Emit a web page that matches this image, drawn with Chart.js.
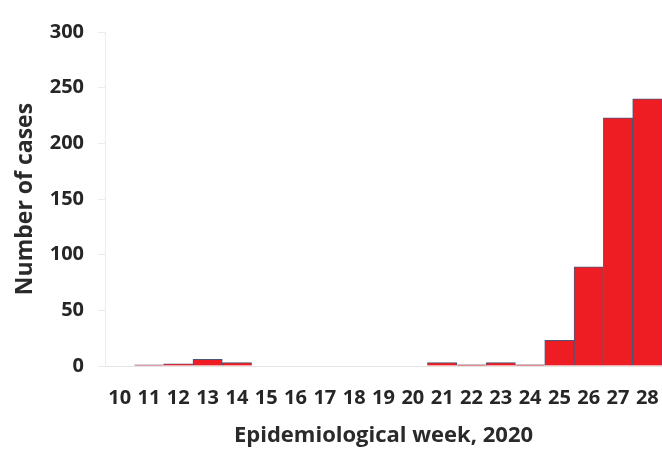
<!DOCTYPE html>
<html lang="en">
<head>
    <meta charset="UTF-8">
    <title>Number of cases by epidemiological week</title>
    <script src="https://cdn.jsdelivr.net/npm/chart.js"></script>
    <style>
        html, body {
            margin: 0;
            padding: 0;
            background: #ffffff;
        }
        .chart-container {
            width: 662px;
            height: 449px;
        }
    </style>
</head>
<body>
    <div class="chart-container">
        <canvas id="casesChart"></canvas>
    </div>

    <script>
        // Datos
        const weeks = ['10', '11', '12', '13', '14', '15', '16', '17', '18', '19',
                       '20', '21', '22', '23', '24', '25', '26', '27', '28'];
        const cases = [0, 1, 2, 6, 3, 0, 0, 0, 0, 0,
                       0, 3, 1, 3, 1, 23, 89, 223, 240];
        const yTicks = [0, 50, 100, 150, 200, 250, 300];

        const barRed = '#ee1d23';
        const barEdge = '#4b5878';
        const lightBlue = '#58b4e6';

        // la semana 11 se ve como una línea azul clara
        const edgeColors = weeks.map(w => w === '11' ? lightBlue : barEdge);

        const fontFamily = "'Open Sans', sans-serif";

        const ctx = document.getElementById('casesChart').getContext('2d');
        const chart = new Chart(ctx, {
            type: 'bar',
            data: {
                labels: weeks,
                datasets: [{
                    label: 'Cases',
                    data: cases,
                    backgroundColor: barRed,
                    borderColor: edgeColors,
                    borderWidth: 1,
                    barPercentage: 1,
                    categoryPercentage: 1
                }]
            },
            options: {
                responsive: true,
                maintainAspectRatio: false,
                animation: false,
                layout: {
                    padding: { top: 32, right: 0, bottom: 0, left: 0 }
                },
                plugins: {
                    legend: { display: false },
                    tooltip: { enabled: false }
                },
                scales: {
                    x: {
                        grid: {
                            display: false,
                            drawTicks: false
                        },
                        border: { color: '#e4e4e4', width: 1 },
                        ticks: {
                            padding: 20,
                            maxRotation: 0,
                            autoSkip: false,
                            color: '#262626',
                            font: { family: fontFamily, weight: 700, size: 20 }
                        },
                        title: {
                            display: true,
                            text: 'Epidemiological week, 2020',
                            color: '#2a2a2a',
                            font: { family: fontFamily, weight: 700, size: 22 },
                            padding: { top: 0, bottom: 0 }
                        },
                        afterFit: (scale) => {
                            scale.height = 83;
                            scale.paddingLeft = 0;
                            scale.paddingRight = 0;
                        }
                    },
                    y: {
                        min: 0,
                        max: 300,
                        afterBuildTicks: (scale) => {
                            scale.ticks = yTicks.map(v => ({ value: v }));
                        },
                        grid: {
                            drawOnChartArea: false,
                            tickLength: 7,
                            color: '#ececec'
                        },
                        border: { color: '#ececec', width: 1 },
                        ticks: {
                            padding: 14,
                            color: '#262626',
                            font: { family: fontFamily, weight: 700, size: 20 }
                        },
                        title: {
                            display: true,
                            text: 'Number of cases',
                            color: '#2a2a2a',
                            font: { family: fontFamily, weight: 700, size: 23 },
                            padding: { top: 12, bottom: 0 }
                        },
                        afterFit: (scale) => { scale.width = 105; }
                    }
                }
            }
        });
    </script>
</body>
</html>
